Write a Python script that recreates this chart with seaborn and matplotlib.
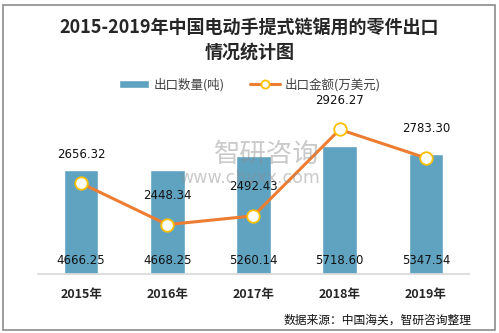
import matplotlib
matplotlib.use("Agg")
import matplotlib.pyplot as plt
import seaborn as sns
import pandas as pd

years = ["2015年", "2016年", "2017年", "2018年", "2019年"]
quantity = [4666.25, 4668.25, 5260.14, 5718.60, 5347.54]
amount = [2656.32, 2448.34, 2492.43, 2926.27, 2783.30]

sns.set_theme(style="white")
plt.rcParams['font.family'] = ['Noto Sans CJK SC', 'DejaVu Sans']

df = pd.DataFrame({"year": years, "quantity": quantity, "amount": amount})

fig = plt.figure(figsize=(4.99, 3.33), dpi=100)
fig.patch.set_facecolor("white")
# outer frame
fig.add_artist(plt.Rectangle((0.006, 0.009), 0.986, 0.975, transform=fig.transFigure,
                             fill=False, edgecolor="#8c8c8c", linewidth=1.2))

ax = fig.add_axes([0.076, 0.177, 0.864, 0.538])
bar_color = "#5FA3C1"
sns.barplot(data=df, x="year", y="quantity", color=bar_color, width=0.4,
            saturation=1, ax=ax, label="出口数量(吨)")
if ax.get_legend() is not None:
    ax.get_legend().remove()
ax.set_ylim(0, 8000)
ax.set_xlim(-0.5, 4.5)
for s in ["top", "right", "left"]:
    ax.spines[s].set_visible(False)
ax.spines["bottom"].set_color("#d9d9d9")
ax.set_yticks([])
ax.set_xlabel("")
ax.set_ylabel("")
ax.tick_params(axis="x", length=0, pad=10)
for lbl in ax.get_xticklabels():
    lbl.set_fontweight("bold")
    lbl.set_fontsize(9)
for i, v in enumerate(quantity):
    ax.annotate(f"{v:.2f}", (i, 0), xytext=(0, 9.5), textcoords="offset points",
                ha="center", va="center", fontsize=8.5, color="#111111",
                family=["DejaVu Sans"])

ax2 = ax.twinx()
sns.lineplot(x=list(range(len(years))), y=amount, ax=ax2, color="#ED7D31",
             linewidth=2.2, marker="o", markersize=9, markerfacecolor="white",
             markeredgecolor="#FFC000", markeredgewidth=1.3, label="出口金额(万美元)",
             legend=False)
ax2.set_ylim(2200, 3100)
ax2.set_xlim(-0.5, 4.5)
ax2.set_yticks([])
for s in ["top", "right", "left", "bottom"]:
    ax2.spines[s].set_visible(False)
for i, v in enumerate(amount):
    ax2.annotate(f"{v:.2f}", (i, v), xytext=(0, 21), textcoords="offset points",
                 ha="center", va="center", fontsize=8.5, color="#111111",
                 family=["DejaVu Sans"])

# watermark
fig.text(0.535, 0.535, "智研咨询", ha="center", va="center", fontsize=19,
         color="#8a8a8a", alpha=0.45)
fig.text(0.5, 0.465, "www.chyxx.com", ha="center", va="center", fontsize=12.5,
         color="#8a8a8a", alpha=0.45, family=["DejaVu Sans"])

# title
fig.text(0.5, 0.881, "2015-2019年中国电动手提式链锯用的零件出口\n情况统计图", ha="center",
         va="center", fontsize=13, fontweight="bold", linespacing=1.4)

# legend
h1, l1 = ax.get_legend_handles_labels()
h2, l2 = ax2.get_legend_handles_labels()
fig.legend(h1 + h2, l1 + l2, loc="center", bbox_to_anchor=(0.5, 0.745), ncol=2,
           frameon=False, fontsize=9, handlelength=2.4, handleheight=0.6,
           columnspacing=2.0, handletextpad=0.4, labelcolor="#404040",
           markerscale=0.65)

fig.text(0.945, 0.04, "数据来源：中国海关，智研咨询整理", ha="right", va="center",
         fontsize=8.5, color="#111111")

fig.savefig("out.png", dpi=100)
